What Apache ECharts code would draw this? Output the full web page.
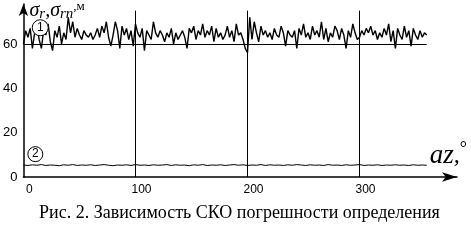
<!DOCTYPE html>
<html><head><meta charset="utf-8">
<script src="https://cdn.jsdelivr.net/npm/echarts@6/dist/echarts.min.js"></script>
<style>html,body{margin:0;padding:0;background:#fff}#c{width:471px;height:243px}</style>
</head><body><div id="c"></div>
<script>
// series 1: sigma_r (every 2 degrees, 0..360)
var sigmaR = [
60,66,63,67,58,65,68,62,58,66,
64,69,61,57,66,63,68,60,65,62,
72,65,70,63,67,64,62,66,64,63,
65,62,64,67,63,68,65,70,63,59,
64,70,66,58,68,64,67,62,66,59,
69,65,63,67,57,66,64,62,70,65,
63,66,64,61,65,63,67,60,65,62,
64,66,63,58,67,65,68,62,66,64,
69,63,66,64,68,61,67,63,65,62,
64,68,63,66,61,69,64,65,62,58,
56,72,62,70,65,61,68,64,66,63,
65,62,67,64,63,68,65,59,66,64,
63,66,58,67,64,69,63,65,62,68,
64,66,63,70,62,67,61,65,63,68,
66,62,67,64,58,66,63,69,65,62,
63,66,64,67,65,68,64,66,62,65,
63,67,64,69,61,66,58,67,64,62,
68,63,66,59,67,64,62,66,63,65,
64];
// series 2: sigma_rn (every 4 degrees, 0..360)
var sigmaRn = [
5.4,5.2,5.5,5.3,5.6,5.2,5.4,5.3,5.1,5.5,
5.3,5.6,5.2,5.4,5.3,5.5,5.2,5.4,5.6,5.3,
5.1,5.4,5.3,5.5,5.2,5.6,5.3,5.4,5.2,5.5,
5.3,5.4,5.6,5.2,5.5,5.3,5.4,5.1,5.5,5.3,
5.6,5.2,5.4,5.3,5.5,5.2,5.4,5.6,5.3,5.5,
5.2,5.4,5.3,5.6,5.2,5.5,5.3,5.4,5.2,5.5,
5.3,5.6,5.4,5.2,5.5,5.3,5.4,5.2,5.6,5.3,
5.4,5.2,5.5,5.3,5.4,5.6,5.2,5.4,5.3,5.5,
5.2,5.4,5.3,5.5,5.3,5.4,5.2,5.5,5.3,5.4,
5.3];
var xTicks = [0,100,200,300];
var yTicks = [0,20,40,60];
var gridX = [100,200,300];
var gridY = [60];
var caption = 'Рис. 2. Зависимость СКО погрешности определения';

var d1 = sigmaR.map(function(v,i){return [i*2, v];});
var d2 = sigmaRn.map(function(v,i){return [i*4, v];});
var ml = [];
gridX.forEach(function(x){ ml.push([{coord:[x,0]},{coord:[x,75]}]); });
gridY.forEach(function(y){ ml.push([{coord:[0,y]},{coord:[360,y]}]); });

var chart = echarts.init(document.getElementById('c'));
var serif = 'Liberation Serif';
chart.setOption({
  animation:false,
  grid:{left:21,right:14,top:2,bottom:66},
  xAxis:{type:'value',min:0,max:387,interval:100,
    axisLine:{lineStyle:{color:'#000',width:1.5},symbol:['none','arrow'],symbolSize:[7,15]},
    axisTick:{show:false},splitLine:{show:false},
    axisLabel:{showMaxLabel:false,color:'#000',fontFamily:'Liberation Sans',fontSize:12,margin:7,padding:[0,0,0,12],
      formatter:function(v){return xTicks.indexOf(v)>=0?String(v):'';}},
    name:'{i|az}{c|,}{d|°}',nameLocation:'end',nameGap:10,
    nameTextStyle:{align:'right',verticalAlign:'bottom',padding:[0,0,5,0],
      rich:{i:{fontFamily:serif,fontStyle:'italic',fontSize:27,color:'#000'},
            c:{fontFamily:serif,fontStyle:'italic',fontSize:24,color:'#000'},
            d:{fontFamily:serif,fontSize:18,color:'#000',padding:[0,0,14,0]}}}
  },
  yAxis:{type:'value',min:0,max:78,interval:20,
    axisLine:{show:true,lineStyle:{color:'#000',width:1.5},symbol:['none','arrow'],symbolSize:[7,12]},
    axisTick:{show:false},splitLine:{show:false},
    axisLabel:{showMaxLabel:false,color:'#000',fontFamily:'Liberation Sans',fontSize:13,margin:6,
      formatter:function(v){return yTicks.indexOf(v)>=0?String(v):'';}},
    name:'{s|σ}{b|r}{s|,σ}{b|rn}{p|,м}',nameLocation:'end',nameGap:5,
    nameTextStyle:{align:'left',verticalAlign:'top',padding:[0,0,0,6],
      rich:{s:{fontFamily:serif,fontStyle:'italic',fontSize:20,color:'#000'},
            b:{fontFamily:serif,fontStyle:'italic',fontSize:15,color:'#000',padding:[8,0,0,0]},
            p:{fontFamily:serif,fontSize:13,color:'#000',padding:[0,0,8,0]}}}
  },
  series:[
    {type:'line',data:d1,symbol:'none',lineStyle:{color:'#000',width:1.4},z:3,
      markLine:{silent:true,symbol:'none',label:{show:false},lineStyle:{color:'#000',width:1,type:'solid'},data:ml},
      markPoint:{silent:true,data:[{coord:[15,67.3],symbol:'circle',symbolSize:16,
        itemStyle:{color:'#fff',borderColor:'#000',borderWidth:1},
        label:{show:true,formatter:'1',color:'#000',fontFamily:'Liberation Sans',fontSize:12}}]}},
    {type:'line',data:d2,symbol:'none',lineStyle:{color:'#000',width:1},z:3,
      markPoint:{silent:true,data:[{coord:[10.6,10.3],symbol:'circle',symbolSize:15,
        itemStyle:{color:'#fff',borderColor:'#000',borderWidth:1},
        label:{show:true,formatter:'2',color:'#000',fontFamily:'Liberation Sans',fontSize:12}}]}}
  ],
  graphic:[{type:'text',left:39,top:204,style:{text:caption,fontFamily:serif,fontSize:18,fill:'#000'}}]
});
</script></body></html>
